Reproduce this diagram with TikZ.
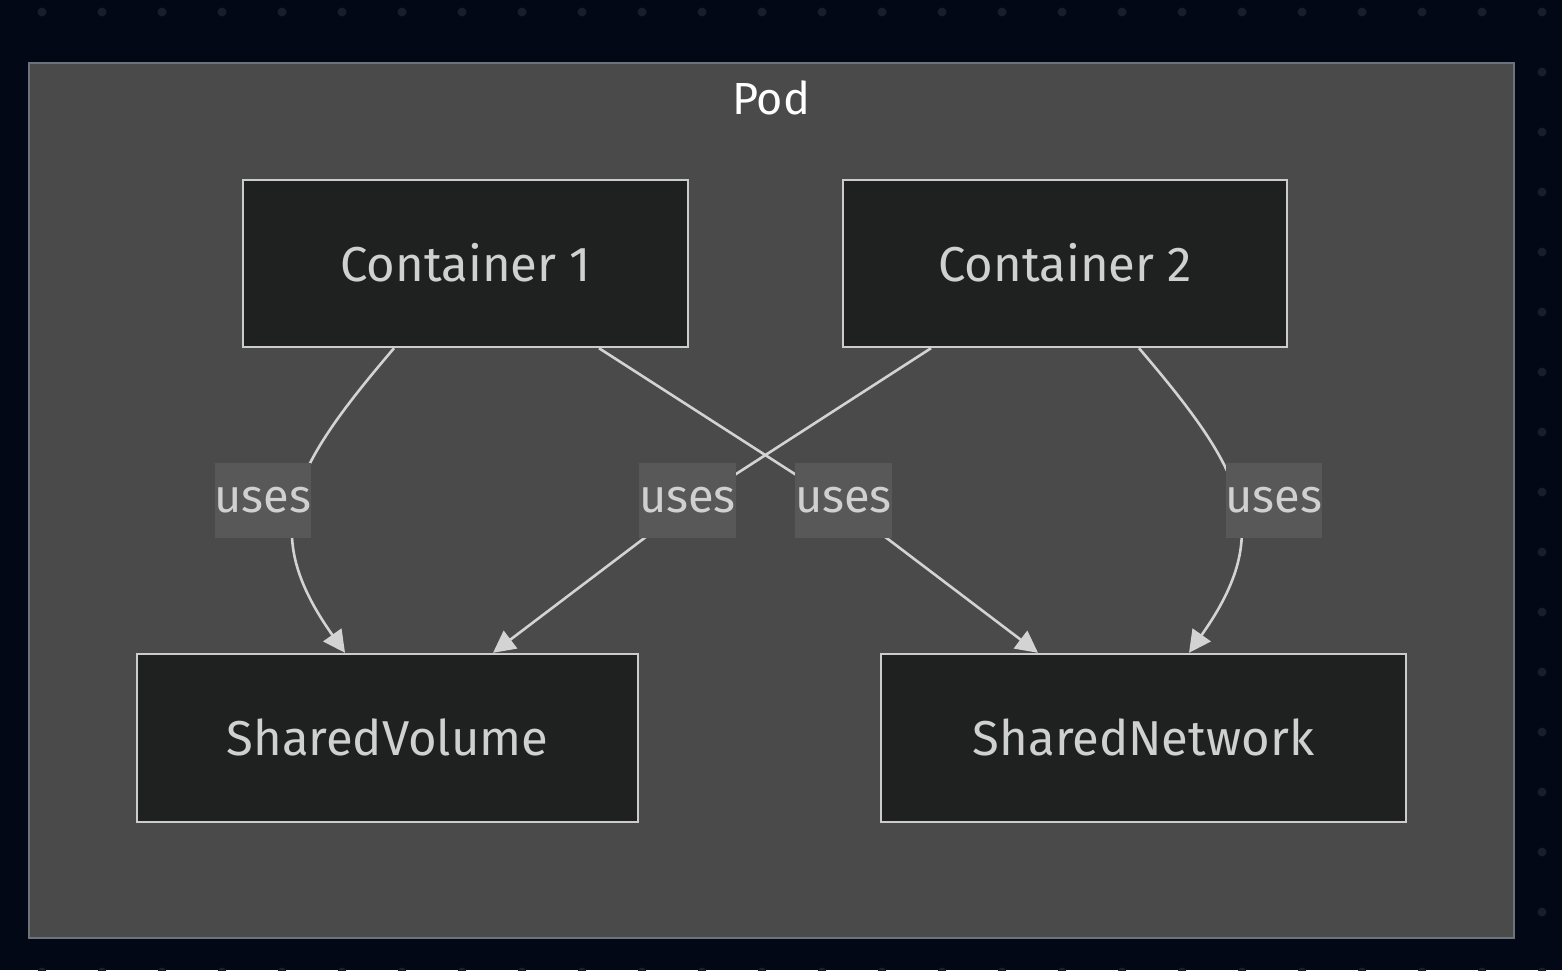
\documentclass[tikz,border=0pt]{standalone}
\usepackage{fontspec}
\setmainfont{Fira Sans}
\usetikzlibrary{arrows.meta}
\definecolor{bgc}{HTML}{020816}
\definecolor{dotc}{HTML}{1A1E2A}
\definecolor{podfill}{HTML}{494A49}
\definecolor{podline}{HTML}{6E727A}
\definecolor{nodefill}{HTML}{1F2020}
\definecolor{nodeline}{HTML}{CCCCCC}
\definecolor{txt}{HTML}{D0D0D0}
\definecolor{lblfill}{HTML}{585858}
\definecolor{edgec}{HTML}{D3D3D3}
\tikzset{
  box/.style={draw=nodeline, fill=nodefill, line width=2.4pt, text=txt,
    font=\fontsize{49}{52}\selectfont, inner sep=0pt},
  lbl/.style={fill=lblfill, text=txt, font=\fontsize{47}{50}\selectfont,
    inner sep=0pt, minimum height=75pt},
  edge/.style={draw=edgec, line width=2.6pt,
    -{Triangle[length=22pt,width=22pt]}},
}
\begin{document}
\begin{tikzpicture}[x=1pt,y=-1pt]
\fill[bgc] (0,0) rectangle (1562,970);
\useasboundingbox (0,0) rectangle (1562,970);
\foreach \i in {0,...,25}{
  \foreach \j in {0,...,16}{
    \fill[dotc] (42+60*\i,12+60*\j) circle (4.5);
  }
}
\draw[fill=podfill, draw=podline, line width=2.4pt] (29,63) rectangle (1514,938);
\node[text=white, font=\fontsize{45}{48}\selectfont] (pod) at (771,98) {Pod};

\node[box, minimum width=445pt, minimum height=167pt] (c1) at (465.5,263.5) {\raisebox{2pt}{Container 1}};
\node[box, minimum width=444pt, minimum height=167pt] (c2) at (1065,263.5) {\raisebox{2pt}{Container 2}};
\node[box, minimum width=501pt, minimum height=168pt] (sv) at (387.5,738) {\raisebox{1pt}{SharedVolume}};
\node[box, minimum width=525pt, minimum height=168pt] (sn) at (1143.5,738) {\raisebox{1pt}{SharedNetwork}};

\coordinate (b2) at (843,505);
\coordinate (b3) at (688,505);

\draw[edge] ([xshift=-71.5pt]c1.south) .. controls (290,470) and (258,530) .. ([xshift=-42.5pt]sv.north);
\draw[edge] ([xshift=133.5pt]c1.south) -- (b2) -- ([xshift=-105.5pt]sn.north);
\draw[edge] ([xshift=-134pt]c2.south) -- (b3) -- ([xshift=105.5pt]sv.north);
\draw[edge] ([xshift=74pt]c2.south) .. controls (1243,470) and (1276,530) .. ([xshift=45.5pt]sn.north);

\node[lbl, minimum width=94pt] (l1) at (263,500.5) {uses};
\node[lbl, minimum width=95pt] (l3) at (687.5,500.5) {uses};
\node[lbl, minimum width=93pt] (l2) at (843.5,500.5) {uses};
\node[lbl, minimum width=92pt] (l4) at (1274,500.5) {uses};
\end{tikzpicture}
\end{document}
